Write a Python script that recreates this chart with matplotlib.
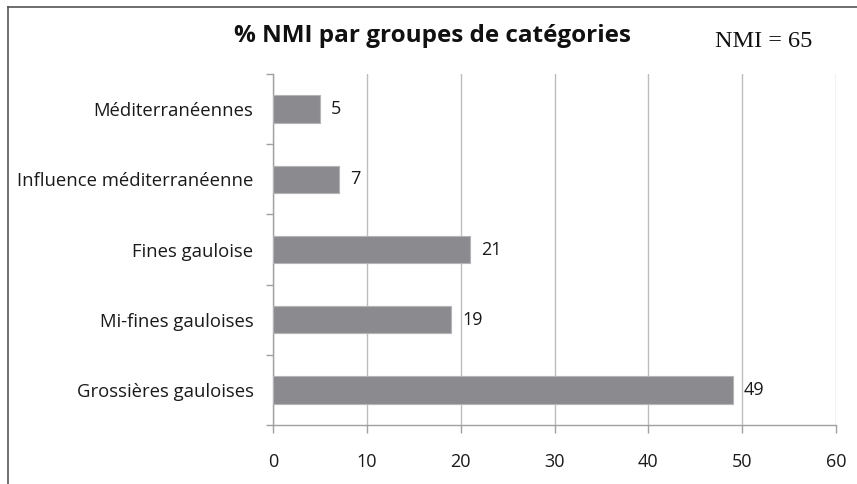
import matplotlib.pyplot as plt
from matplotlib.lines import Line2D

# categories top to bottom, values in %
categories = ["Méditerranéennes", "Influence méditerranéenne", "Fines gauloise",
              "Mi-fines gauloises", "Grossières gauloises"]
values = [5, 7, 21, 19, 49]
x_ticks = [0, 10, 20, 30, 40, 50, 60]

title = "% NMI par groupes de catégories"
nmi_note = "NMI = 65"

plt.rcParams['font.family'] = ['Open Sans', 'DejaVu Sans']

fig = plt.figure(figsize=(8.57, 4.84), dpi=100)
ax = fig.add_axes([0.3186, 0.1219, 0.9755 - 0.3186, 0.847 - 0.1219])

pos = list(range(len(categories)))
ax.barh(pos, values, height=0.39, color='#8b8b8f', edgecolor='#b4b4b6', linewidth=0.8, zorder=3)
for p, v in zip(pos, values):
    ax.annotate(f"{v}", xy=(v, p), xytext=(8, 0), textcoords='offset points',
                va='center', ha='left', fontsize=13, color='#1a1a1a')

ax.set_xlim(0, 60)
ax.set_ylim(len(categories) - 0.5, -0.5)
ax.set_xticks(x_ticks)
ax.set_yticks(pos)
ax.set_yticklabels(categories)
ax.set_yticks([i - 0.5 for i in range(len(categories) + 1)], minor=True)

ax.grid(axis='x', color='#bdbdbd', linewidth=1.0, zorder=0)
ax.tick_params(axis='x', length=6, width=1, color='#a0a0a0', pad=14, labelsize=13, labelcolor='#1a1a1a')
ax.tick_params(axis='y', which='major', length=0, pad=14, labelsize=13.3, labelcolor='#1a1a1a')
ax.tick_params(axis='y', which='minor', length=5, width=1, color='#a0a0a0')

for side in ['top', 'right']:
    ax.spines[side].set_visible(False)
for side in ['left', 'bottom']:
    ax.spines[side].set_color('#a0a0a0')
    ax.spines[side].set_linewidth(1.0)

fig.text(0.505, 0.926, title, ha='center', va='center', fontsize=17.5, fontweight='bold', color='#111111')
fig.text(0.891, 0.915, nmi_note, ha='center', va='center', fontsize=17.5,
         family=['Liberation Serif', 'DejaVu Serif'], color='#111111')

# chart frame on the top and left edges
fig.add_artist(Line2D([8 / 857, 8 / 857], [0, 1 - 7 / 484], color='#555555', linewidth=1.2))
fig.add_artist(Line2D([8 / 857, 1], [1 - 7 / 484, 1 - 7 / 484], color='#555555', linewidth=1.2))

fig.savefig("out.png", dpi=100)
